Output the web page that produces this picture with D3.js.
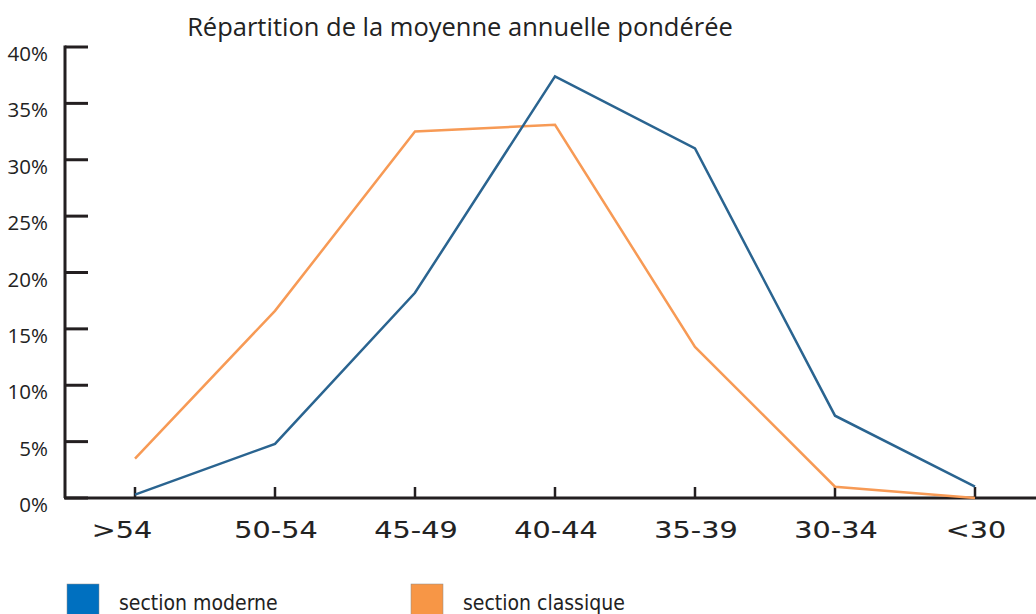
<!DOCTYPE html>
<html>
<head>
<meta charset="utf-8">
<script src="https://cdn.jsdelivr.net/npm/d3@7"></script>
<style>
  body { margin: 0; background: #fff; }
  svg { display: block; }
</style>
</head>
<body>
<div id="chart"></div>
<script>
  var categories = [">54", "50-54", "45-49", "40-44", "35-39", "30-34", "<30"];
  var moderne = [0.3, 4.8, 18.2, 37.4, 31.0, 7.3, 1.0];
  var classique = [3.5, 16.6, 32.5, 33.1, 13.4, 1.0, 0.0];
  var yTicks = [0, 5, 10, 15, 20, 25, 30, 35, 40];
  var seriesNames = ["section moderne", "section classique"];

  var width = 1036, height = 614;
  var axisColor = "#231f20";

  var svg = d3.select("#chart").append("svg")
    .attr("width", width)
    .attr("height", height);

  var x = d3.scalePoint()
    .domain(categories)
    .range([135, 975]);

  var y = d3.scaleLinear()
    .domain([0, 40])
    .range([498, 47]);

  // title
  svg.append("text")
    .attr("x", 460)
    .attr("y", 36)
    .attr("text-anchor", "middle")
    .style("font", "25.5px 'Open Sans', sans-serif")
    .style("fill", "#222")
    .text("Répartition de la moyenne annuelle pondérée");

  // y axis
  svg.append("line")
    .attr("x1", 65).attr("x2", 65)
    .attr("y1", y(40) - 1.5).attr("y2", y(0))
    .attr("stroke", axisColor).attr("stroke-width", 3);

  svg.selectAll(".ytick")
    .data(yTicks)
    .enter().append("line")
    .attr("x1", 65).attr("x2", 88)
    .attr("y1", function (d) { return y(d); })
    .attr("y2", function (d) { return y(d); })
    .attr("stroke", axisColor).attr("stroke-width", 3);

  svg.selectAll(".ylab")
    .data(yTicks)
    .enter().append("text")
    .attr("x", 48)
    .attr("y", function (d) { return y(d) + 14; })
    .attr("text-anchor", "end")
    .style("font", "20.5px 'Open Sans', sans-serif")
    .style("fill", "#222")
    .text(function (d) { return d + "%"; });

  // x axis
  svg.append("line")
    .attr("x1", 64).attr("x2", width)
    .attr("y1", y(0)).attr("y2", y(0))
    .attr("stroke", axisColor).attr("stroke-width", 3);

  svg.selectAll(".xtick")
    .data(categories)
    .enter().append("line")
    .attr("x1", function (d) { return x(d); })
    .attr("x2", function (d) { return x(d); })
    .attr("y1", y(0) - 11).attr("y2", y(0))
    .attr("stroke", axisColor).attr("stroke-width", 2.5);

  // labels are a bit stretched in the original, first one sits left of its tick
  svg.selectAll(".xlab")
    .data(categories)
    .enter().append("text")
    .attr("transform", function (d, i) {
      var dx = i === 0 ? -13 : 1;
      return "translate(" + (x(d) + dx) + ",538) scale(1.22,1)";
    })
    .attr("text-anchor", "middle")
    .style("font", "23.5px 'DejaVu Sans', sans-serif")
    .style("fill", "#222")
    .style("stroke", "#222")
    .style("stroke-width", 0.12)
    .text(function (d) { return d; });

  // lines
  var line = d3.line()
    .x(function (d, i) { return x(categories[i]); })
    .y(function (d) { return y(d); });

  svg.append("path")
    .datum(classique)
    .attr("d", line)
    .attr("fill", "none")
    .attr("stroke", "#f79a55")
    .attr("stroke-width", 2.5);

  svg.append("path")
    .datum(moderne)
    .attr("d", line)
    .attr("fill", "none")
    .attr("stroke", "#2a6490")
    .attr("stroke-width", 2.5);

  // legend
  var legendColors = ["#0070c0", "#f79646"];
  var legendX = [67, 411];
  var legend = svg.selectAll(".legend")
    .data(seriesNames)
    .enter().append("g")
    .attr("transform", function (d, i) { return "translate(" + legendX[i] + ",584)"; });

  legend.append("rect")
    .attr("width", 32).attr("height", 32)
    .attr("fill", function (d, i) { return legendColors[i]; })
    .attr("stroke", "#8a8a8a").attr("stroke-width", 0.5);

  legend.append("text")
    .attr("x", 52)
    .attr("y", 26)
    .style("font", "21px 'DejaVu Sans Condensed', 'DejaVu Sans', sans-serif")
    .style("fill", "#222")
    .text(function (d) { return d; });
</script>
</body>
</html>
